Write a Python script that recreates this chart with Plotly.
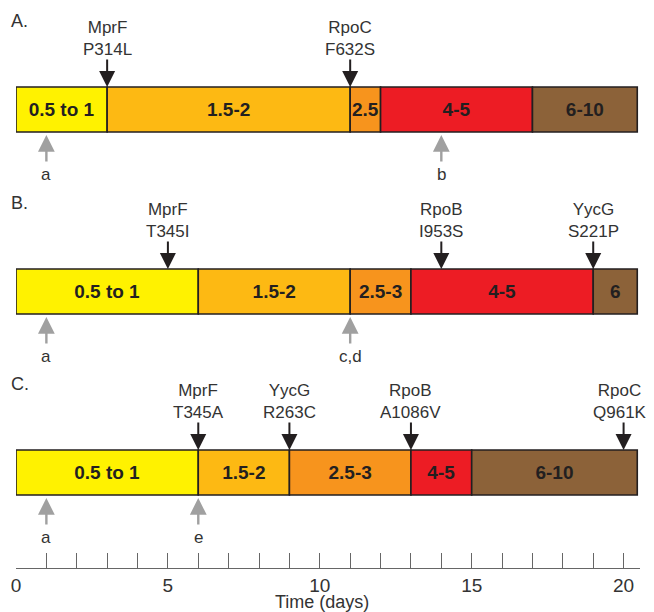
import plotly.graph_objects as go

# ---------------- data ----------------
panel_names = ["A.", "B.", "C."]

# MIC phases: start day, end day, MIC label
A_starts = [0, 3, 11, 12, 17]
A_ends = [3, 11, 12, 17, 20.45]
A_labels = ["0.5 to 1", "1.5-2", "2.5", "4-5", "6-10"]

B_starts = [0, 6, 11, 13, 19]
B_ends = [6, 11, 13, 19, 20.45]
B_labels = ["0.5 to 1", "1.5-2", "2.5-3", "4-5", "6"]

C_starts = [0, 6, 9, 13, 15]
C_ends = [6, 9, 13, 15, 20.45]
C_labels = ["0.5 to 1", "1.5-2", "2.5-3", "4-5", "6-10"]

# mutations (black arrows)
A_mut_days = [3, 11]
A_mut_genes = ["MprF", "RpoC"]
A_mut_changes = ["P314L", "F632S"]

B_mut_days = [5, 14, 19]
B_mut_genes = ["MprF", "RpoB", "YycG"]
B_mut_changes = ["T345I", "I953S", "S221P"]

C_mut_days = [6, 9, 13, 20]
C_mut_genes = ["MprF", "YycG", "RpoB", "RpoC"]
C_mut_changes = ["T345A", "R263C", "A1086V", "Q961K"]

# sampled time points (grey arrows)
A_samp_days = [1, 14]
A_samp_labels = ["a", "b"]
B_samp_days = [1, 11]
B_samp_labels = ["a", "c,d"]
C_samp_days = [1, 6]
C_samp_labels = ["a", "e"]

x_ticks = [0, 5, 10, 15, 20]
x_title = "Time (days)"

# ---------------- styling / layout ----------------
mic_colors = {
    "0.5 to 1": "#FFF200",
    "1.5-2": "#FDB913",
    "2.5": "#F7941D",
    "2.5-3": "#F7941D",
    "4-5": "#ED1C24",
    "6-10": "#8C6239",
    "6": "#8C6239",
}
FONT = "Liberation Sans, Arial, Helvetica, sans-serif"
TXT = "#333333"
DARK = "#231F20"
GREY = "#A0A0A0"
AXC = "#666666"

# the page body has an 8px margin; the y axis is laid out in window pixels
BODY = 8
W, H = 654 - BODY, 612 - BODY
AXIS_Y = 568
PLOT_L, PLOT_R = 16, 640
bar_tops = [87, 269, 450]
BAR_H = 45
EDGE_DAY = 19.5   # labels beyond this day are nudged left to stay inside the page

panels = [
    (A_starts, A_ends, A_labels, A_mut_days, A_mut_genes, A_mut_changes, A_samp_days, A_samp_labels),
    (B_starts, B_ends, B_labels, B_mut_days, B_mut_genes, B_mut_changes, B_samp_days, B_samp_labels),
    (C_starts, C_ends, C_labels, C_mut_days, C_mut_genes, C_mut_changes, C_samp_days, C_samp_labels),
]

fig = go.Figure()
annotations = []

for name, top, (starts, ends, labels, mdays, mgenes, mchanges, sdays, slabels) in zip(
        panel_names, bar_tops, panels):
    center = top + BAR_H / 2
    bottom = top + BAR_H
    fig.add_trace(go.Bar(
        orientation="h",
        base=starts,
        x=[e - s for s, e in zip(starts, ends)],
        y=[center] * len(starts),
        width=BAR_H,
        text=labels,
        textposition="inside",
        insidetextanchor="middle",
        textangle=0,
        textfont=dict(family=FONT, size=19, color=DARK, weight="bold"),
        marker=dict(color=[mic_colors[l] for l in labels],
                    line=dict(color=DARK, width=1.6)),
        hoverinfo="skip",
        showlegend=False,
    ))
    # panel label
    annotations.append(dict(x=0, y=top - 66, xref="x", yref="y", text=name,
                            showarrow=False, xanchor="left", yanchor="middle",
                            xshift=-7, font=dict(family=FONT, size=18, color=TXT)))
    # mutation arrows & labels
    for d, g, c in zip(mdays, mgenes, mchanges):
        annotations.append(dict(x=d, y=top, xref="x", yref="y", text="",
                                showarrow=True, ax=0, ay=-29, arrowhead=2,
                                arrowsize=1.6, arrowwidth=2, arrowcolor=DARK))
        annotations.append(dict(x=d, y=top - 49, xref="x", yref="y",
                                text=f"{g}<br>{c}", showarrow=False,
                                xanchor="center", yanchor="middle",
                                xshift=-4 if d > EDGE_DAY else 0,
                                font=dict(family=FONT, size=17, color=TXT)))
    # sample arrows & labels
    for d, l in zip(sdays, slabels):
        annotations.append(dict(x=d, y=bottom + 3, xref="x", yref="y", text="",
                                showarrow=True, ax=0, ay=28, arrowhead=2,
                                arrowsize=1.4, arrowwidth=2.4, arrowcolor=GREY))
        annotations.append(dict(x=d, y=bottom + 42, xref="x", yref="y", text=l,
                                showarrow=False, xanchor="center", yanchor="middle",
                                font=dict(family=FONT, size=17, color=TXT)))

annotations.append(dict(x=0.49, y=0, xref="paper", yref="paper", text=x_title,
                        showarrow=False, xanchor="center", yanchor="middle",
                        yshift=-34, font=dict(family=FONT, size=18, color=TXT)))

fig.update_layout(
    width=W, height=H,
    margin=dict(l=PLOT_L - BODY, r=(W + BODY) - PLOT_R, t=0, b=H - (AXIS_Y - BODY)),
    paper_bgcolor="white", plot_bgcolor="white",
    barmode="overlay",
    uniformtext=dict(minsize=19, mode="show"),
    annotations=annotations,
    font=dict(family=FONT, color=TXT),
    xaxis=dict(range=[0, 20.54], showgrid=False, zeroline=False,
               showline=True, linecolor=AXC, linewidth=1,
               ticks="inside", ticklen=15, tickwidth=1, tickcolor=AXC,
               tickmode="array", tickvals=x_ticks, ticktext=[str(t) for t in x_ticks],
               tickfont=dict(family=FONT, size=19, color=TXT),
               minor=dict(dtick=1, tick0=0, ticks="inside", ticklen=15,
                          tickwidth=1, tickcolor=AXC, showgrid=False),
               fixedrange=True),
    yaxis=dict(range=[AXIS_Y, BODY], visible=False, fixedrange=True),
)

fig.write_html("out.html")
